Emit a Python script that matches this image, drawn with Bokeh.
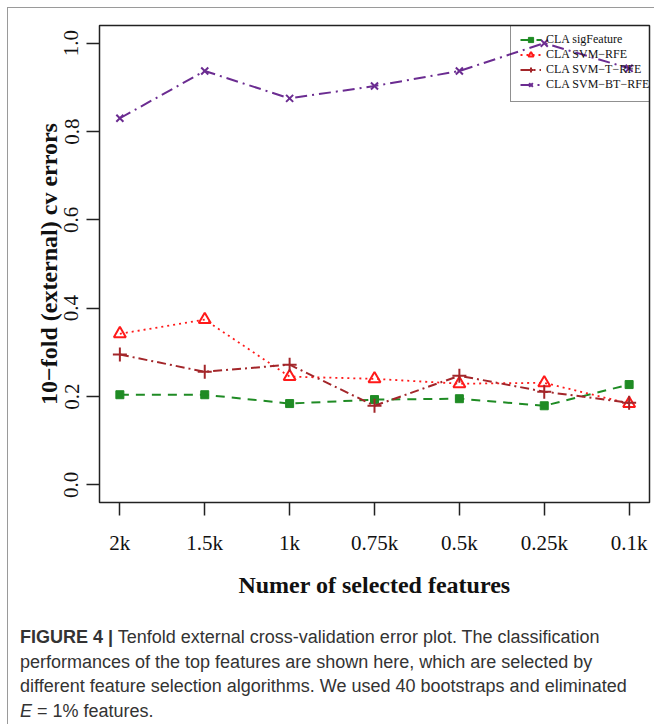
from bokeh.plotting import figure
from bokeh.models import Range1d, FixedTicker, Legend, LegendItem, Div
from bokeh.layouts import column
from bokeh.embed import file_html
from bokeh.resources import INLINE

# ---- data ----
features = ["2k", "1.5k", "1k", "0.75k", "0.5k", "0.25k", "0.1k"]
sig_feature = [0.204, 0.204, 0.184, 0.193, 0.195, 0.179, 0.227]
svm_rfe = [0.342, 0.374, 0.245, 0.240, 0.229, 0.231, 0.184]
svm_t_rfe = [0.295, 0.256, 0.272, 0.179, 0.247, 0.211, 0.186]
svm_bt_rfe = [0.830, 0.937, 0.875, 0.903, 0.937, 1.000, 0.943]
y_ticks = [0.0, 0.2, 0.4, 0.6, 0.8, 1.0]
y_tick_labels = ["0.0", "0.2", "0.4", "0.6", "0.8", "1.0"]
series_names = ["CLA sigFeature", "CLA SVM\u2212RFE", "CLA SVM\u2212T\u2212RFE", "CLA SVM\u2212BT\u2212RFE"]

x = list(range(1, len(features) + 1))
SERIF = "Liberation Serif"

p = figure(width=646, height=600, output_backend="svg", toolbar_location=None,
           x_range=Range1d(0.76, 7.24), y_range=Range1d(-0.04, 1.04),
           min_border_left=91, min_border_right=5, min_border_top=17, min_border_bottom=106)
p.grid.visible = False
p.outline_line_color = "#222222"
p.outline_line_width = 1.5
p.background_fill_color = "white"
p.border_fill_color = "white"

# axes
for ax in (p.xaxis[0], p.yaxis[0]):
    ax.axis_line_color = None
    ax.major_tick_out = 13
    ax.major_tick_in = 0
    ax.minor_tick_line_color = None
    ax.major_tick_line_color = "#222222"
    ax.major_tick_line_width = 1.5
    ax.major_label_text_font = SERIF
    ax.major_label_text_font_size = "21px"
    ax.major_label_text_color = "#111111"
    ax.axis_label_text_font = SERIF
    ax.axis_label_text_font_size = "24px"
    ax.axis_label_text_font_style = "bold"
    ax.axis_label_text_color = "#111111"

p.xaxis.ticker = FixedTicker(ticks=x)
p.xaxis.major_label_overrides = {xi: lab for xi, lab in zip(x, features)}
p.xaxis.major_label_standoff = 15
p.xaxis.axis_label = "Numer of selected features"
p.xaxis.axis_label_standoff = 14

p.yaxis.ticker = FixedTicker(ticks=y_ticks)
p.yaxis.major_label_overrides = {t: lab for t, lab in zip(y_ticks, y_tick_labels)}
p.yaxis.major_label_orientation = "vertical"
p.yaxis.major_label_standoff = 8
p.yaxis.axis_label = "10\u2212fold (external) cv errors"
p.yaxis.axis_label_standoff = 0

green = "#1f8b24"
red = "#ff1a1a"
brown = "#a3262a"
purple = "#6b2c91"

l1 = p.line(x, sig_feature, line_color=green, line_width=2, line_dash="9 7")
m1 = p.scatter(x, sig_feature, marker="square", size=8, fill_color=green, line_color=green)
l2 = p.line(x, svm_rfe, line_color=red, line_width=1.8, line_dash="2 4")
m2 = p.scatter(x, svm_rfe, marker="triangle", size=12, fill_alpha=0, line_color=red, line_width=2)
l3 = p.line(x, svm_t_rfe, line_color=brown, line_width=2, line_dash="9 4 2 4")
m3 = p.scatter(x, svm_t_rfe, marker="cross", size=14, line_color=brown, line_width=2)
l4 = p.line(x, svm_bt_rfe, line_color=purple, line_width=2, line_dash="12 5 2 5")
m4 = p.scatter(x, svm_bt_rfe, marker="x", size=10, line_color=purple, line_width=2)

items = [LegendItem(label=series_names[0], renderers=[l1, m1]),
         LegendItem(label=series_names[1], renderers=[l2, m2]),
         LegendItem(label=series_names[2], renderers=[l3, m3]),
         LegendItem(label=series_names[3], renderers=[l4, m4])]
legend = Legend(items=items, location=(411, 400), padding=9, spacing=-1,
                label_height=13, glyph_height=13, glyph_width=21, label_standoff=5,
                label_text_font=SERIF, label_text_font_size="12px",
                label_text_color="#111111",
                border_line_color="#222222", border_line_width=1.2,
                background_fill_alpha=0, margin=0)
p.add_layout(legend)

caption_html = (
    "<div style=\"font-family:'Liberation Sans', Arial, sans-serif; font-size:18px; "
    "line-height:24.5px; color:#333333; white-space:nowrap; padding:12px 0 0 7px;\">"
    "<b>FIGURE 4 |</b> Tenfold external cross-validation error plot. The classification<br>"
    "performances of the top features are shown here, which are selected by<br>"
    "different feature selection algorithms. We used 40 bootstraps and eliminated<br>"
    "<i>E</i> = 1% features.</div>"
)
caption = Div(text=caption_html, width=646, height=108)

layout = column(p, caption, styles={"border-left": "1px solid #9a9a9a",
                                    "border-top": "1px solid #9a9a9a",
                                    "margin-left": "7px", "margin-top": "7px",
                                    "background-color": "white"})

open("out.html", "w").write(file_html(layout, INLINE))
